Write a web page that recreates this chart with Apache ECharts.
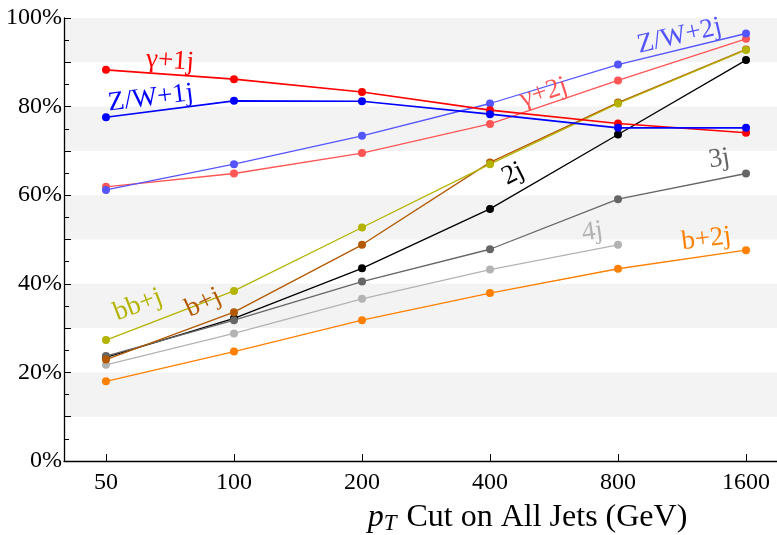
<!DOCTYPE html>
<html>
<head>
<meta charset="utf-8">
<script src="https://cdn.jsdelivr.net/npm/echarts@6/dist/echarts.min.js"></script>
<style>html,body{margin:0;padding:0;background:#fff}#c{width:777px;height:535px}</style>
</head>
<body>
<div id="c"></div>
<script>
// pT cut categories (log-spaced, shown equally spaced)
var categories = ['50', '100', '200', '400', '800', '1600'];
var yTicks = [0, 20, 40, 60, 80, 100];

var gamma1j = [88.3, 86.2, 83.3, 79.2, 76.2, 74.1];
var zw1j    = [77.6, 81.3, 81.2, 78.3, 75.2, 75.2];
var zw2j    = [61.2, 67.0, 73.4, 80.7, 89.5, 96.5];
var gamma2j = [61.9, 64.9, 69.5, 76.1, 85.9, 95.3];
var bbj     = [27.3, 38.4, 52.7, 67.0, 80.7, 92.8];
var bj      = [22.9, 33.6, 48.8, 67.4, 80.9, 92.9];
var j2      = [23.4, 32.2, 43.5, 56.9, 73.7, 90.5];
var j3      = [23.7, 31.8, 40.5, 47.8, 59.1, 64.9];
var j4      = [21.7, 28.8, 36.6, 43.2, 48.8];
var b2j     = [18.0, 24.7, 31.8, 37.9, 43.4, 47.6];

// series label anchor positions in data space: [x index, y value, rotation]
var labelSpots = {
  'γ+1j':   [0.50, 90.3, -4],
  'Z/W+1j': [0.35, 81.9, 7],
  'Z/W+2j': [4.48, 95.9, 13],
  'γ+2j':   [3.42, 83.1, 18],
  '2j':     [3.18, 64.8, 27],
  '3j':     [4.79, 68.2, 9],
  '4j':     [3.80, 51.7, 8],
  'b+2j':   [4.69, 50.1, 7],
  'bb+j':   [0.25, 35.2, 21],
  'b+j':    [0.76, 35.7, 25]
};

var FONT = 'Liberation Serif';

function mk(name, values, color, width) {
  var s = labelSpots[name];
  return {
    name: name,
    type: 'line',
    data: values.map(function (v, i) { return [i, v]; }),
    symbol: 'circle',
    symbolSize: 8,
    itemStyle: { color: color },
    lineStyle: { color: color, width: width },
    emphasis: { disabled: true },
    markPoint: {
      symbol: 'circle',
      symbolSize: 0,
      silent: true,
      data: [{ coord: [s[0], s[1]], value: name }],
      label: {
        show: true,
        position: 'inside',
        formatter: name,
        rotate: s[2],
        color: color,
        fontFamily: FONT,
        fontSize: 27
      }
    }
  };
}

var chart = echarts.init(document.getElementById('c'), null, { renderer: 'canvas' });
chart.setOption({
  animation: false,
  backgroundColor: '#fff',
  grid: { left: 64, right: 0, top: 18, bottom: 74, containLabel: false, outerBoundsMode: 'none' },
  xAxis: {
    type: 'value',
    min: -0.328,
    max: 5.242,
    splitLine: { show: false },
    axisLine: { show: true, onZero: false, lineStyle: { color: '#000', width: 1.3 } },
    axisTick: { show: true, inside: true, length: 7, customValues: categories.map(function (c, i) { return i; }), lineStyle: { color: '#000', width: 1 } },
    axisLabel: {
      customValues: categories.map(function (c, i) { return i; }),
      formatter: function (v) { return categories[Math.round(v)]; },
      color: '#000', fontFamily: FONT, fontSize: 24, margin: 10
    },
    name: '{i|p}{sub|T} Cut on All Jets (GeV)',
    nameLocation: 'middle',
    nameGap: 39,
    nameTextStyle: {
      align: 'center',
      verticalAlign: 'top',
      padding: [0, 0, 0, 214],
      fontFamily: FONT,
      fontSize: 32,
      color: '#000',
      lineHeight: 35,
      rich: {
        i: { fontFamily: FONT, fontStyle: 'italic', fontSize: 32, lineHeight: 35, color: '#000' },
        sub: { fontFamily: FONT, fontStyle: 'italic', fontSize: 23, lineHeight: 21, verticalAlign: 'bottom', color: '#000', padding: [0, 2, 0, 0] }
      }
    }
  },
  yAxis: {
    type: 'value',
    min: 0,
    max: 100,
    interval: 10,
    axisLine: { show: true, onZero: false, lineStyle: { color: '#000', width: 1.3 } },
    axisTick: { show: true, inside: true, length: 7, lineStyle: { color: '#000', width: 1 } },
    minorTick: { show: true, splitNumber: 2, length: 5, lineStyle: { color: '#000', width: 1 } },
    splitLine: { show: false },
    splitArea: { show: true, areaStyle: { color: ['rgba(255,255,255,0)', '#f3f3f3'] } },
    axisLabel: {
      formatter: function (v) { return yTicks.indexOf(v) >= 0 ? v + '%' : ''; },
      color: '#000', fontFamily: FONT, fontSize: 24, margin: 2
    }
  },
  series: [
    mk('b+2j', b2j, '#ff8000', 1.3),
    mk('4j', j4, '#b3b3b3', 1.3),
    mk('2j', j2, '#000000', 1.3),
    mk('3j', j3, '#666666', 1.3),
    mk('b+j', bj, '#b35900', 1.3),
    mk('bb+j', bbj, '#b3b300', 1.3),
    mk('γ+2j', gamma2j, '#ff5555', 1.3),
    mk('Z/W+2j', zw2j, '#5555ff', 1.3),
    mk('γ+1j', gamma1j, '#ff0000', 1.6),
    mk('Z/W+1j', zw1j, '#0000ff', 1.6)
  ]
});
</script>
</body>
</html>
